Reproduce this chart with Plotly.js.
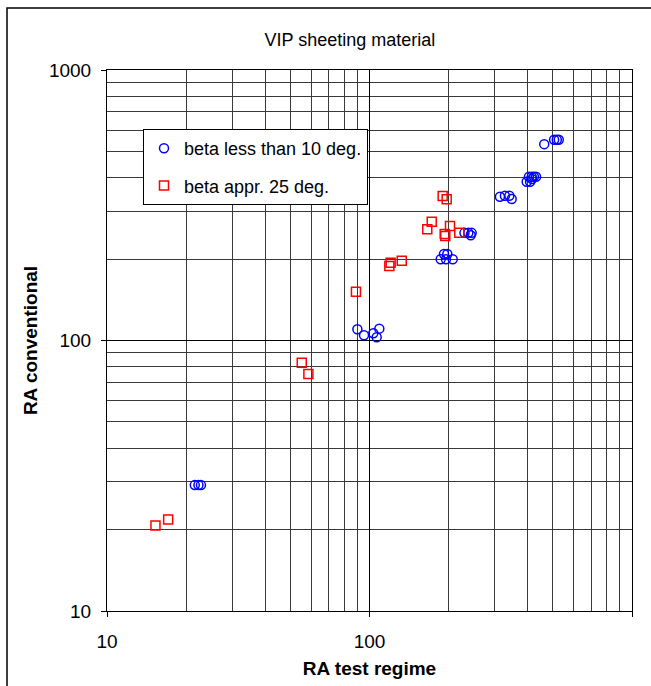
<!DOCTYPE html>
<html>
<head>
<meta charset="utf-8">
<script src="https://cdn.plot.ly/plotly-3.0.1.min.js"></script>
<style>
  html, body { margin: 0; padding: 0; background: #ffffff; }
  #chart { width: 651px; height: 686px; }
</style>
</head>
<body>
<div id="chart"></div>
<script>
// ---- data ----
const blueName = 'beta less than 10 deg.';
const blueX = [21.6, 22.3, 22.8, 89.9, 95.3, 103.4, 106.5, 109, 186.7, 192.2, 197.9, 195.6, 207.5, 230, 238, 245, 243, 314, 328, 341, 348, 397, 405, 415, 423, 431, 409, 416, 463, 505, 517, 526];
const blueY = [29.2, 29.2, 29.2, 110, 104.5, 106.3, 102.8, 110.6, 199.6, 208.9, 208.9, 199.6, 199.6, 250, 250, 250, 245, 340, 343, 343, 333.5, 386, 403, 403, 403, 403, 386, 395, 532, 552, 552, 552];

const redName = 'beta appr. 25 deg.';
const redX = [15.3, 17.1, 55.2, 58.5, 88.8, 119, 120.4, 132.7, 166, 172.6, 190, 196.8, 193.4, 194.4, 202.6, 219.8];
const redY = [20.7, 21.8, 82.8, 75.2, 151.5, 188.6, 193.9, 197.2, 257.8, 275, 342, 332.7, 247.6, 243.4, 265, 250.4];

const xTickVals = [10, 100, 1000];
const xTickText = ['10', '100', '1000'];
const yTickVals = [10, 100, 1000];
const yTickText = ['10', '100', '1000'];

const chartTitle = 'VIP sheeting material';
const xTitle = 'RA test regime';
const yTitle = 'RA conventional';

// ---- chart ----
const FONT = 'Liberation Sans, Arial, sans-serif';

const traces = [
  {
    type: 'scatter', mode: 'markers', name: blueName, x: blueX, y: blueY,
    legendgroup: 'a',
    marker: { symbol: 'circle-open', size: 9, color: '#0000ff', line: { width: 1.5, color: '#0000ff' } }
  },
  {
    type: 'scatter', mode: 'markers', name: redName, x: redX, y: redY,
    legendgroup: 'b',
    marker: { symbol: 'square-open', size: 9, color: '#ff0000', line: { width: 1.5, color: '#ff0000' } }
  }
];

const axisCommon = {
  type: 'log',
  showline: true, linecolor: '#000', linewidth: 1, mirror: true,
  showgrid: true, gridcolor: '#000', gridwidth: 1,
  ticks: 'outside', ticklen: 5, tickcolor: '#000', tickwidth: 1,
  tickfont: { family: FONT, size: 19, color: '#000' },
  zeroline: false,
  minor: { dtick: 'D1', showgrid: true, gridcolor: '#3a3a3a', gridwidth: 1, ticks: '' }
};

const layout = {
  width: 651, height: 686,
  margin: { l: 107, r: 19, t: 70, b: 75 },
  paper_bgcolor: '#ffffff', plot_bgcolor: '#ffffff',
  font: { family: FONT, color: '#000' },
  title: {
    text: chartTitle, xref: 'container', yref: 'container',
    x: 350 / 651, xanchor: 'center', y: 1 - 40 / 686, yanchor: 'middle',
    font: { family: FONT, size: 18, color: '#000' }
  },
  xaxis: Object.assign({}, axisCommon, {
    range: [1, 3],
    tickmode: 'array', tickvals: xTickVals, ticktext: xTickText,
    ticklabelstandoff: 8,
    title: { text: '<b>' + xTitle + '</b>', font: { family: FONT, size: 19, color: '#000' }, standoff: 10 }
  }),
  yaxis: Object.assign({}, axisCommon, {
    range: [1, 3],
    tickmode: 'array', tickvals: yTickVals, ticktext: yTickText,
    ticklabelstandoff: 6,
    title: { text: '<b>' + yTitle + '</b>', font: { family: FONT, size: 19, color: '#000' }, standoff: 6 }
  }),
  showlegend: true,
  legend: {
    x: (143 - 107) / 525, y: (611 - 129) / 541, xanchor: 'left', yanchor: 'top',
    bgcolor: '#ffffff', bordercolor: '#000', borderwidth: 1,
    font: { family: FONT, size: 18, color: '#000' },
    traceorder: 'grouped', tracegroupgap: 11
  },
  shapes: [
    {
      type: 'rect', xref: 'paper', yref: 'paper', layer: 'below',
      x0: (7 - 107) / 525, x1: 1.6, y0: -0.6, y1: (611 - 8) / 541,
      line: { color: '#000', width: 1.5 }, fillcolor: 'rgba(0,0,0,0)'
    }
  ],
  hovermode: false
};

Plotly.newPlot('chart', traces, layout, { displayModeBar: false, staticPlot: true });
</script>
</body>
</html>
